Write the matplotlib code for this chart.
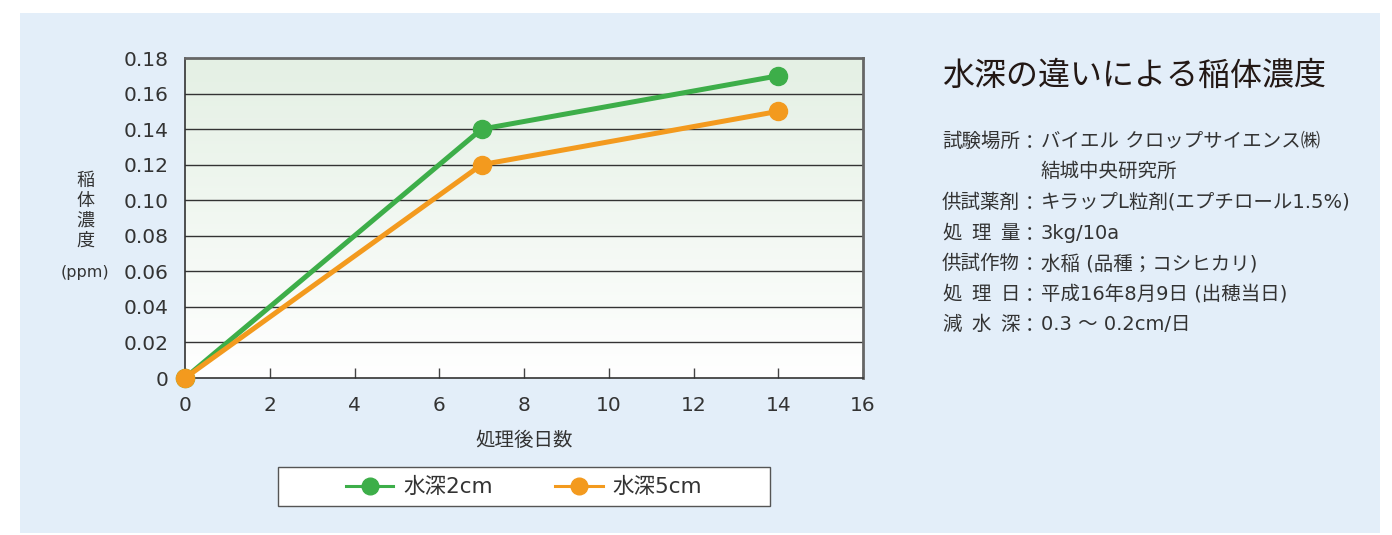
import numpy as np
import matplotlib.pyplot as plt
from matplotlib.patches import Rectangle
from matplotlib.colors import LinearSegmentedColormap

plt.rcParams['font.family'] = ['DejaVu Sans', 'Noto Sans CJK JP']

days = [0, 7, 14]
depth_2cm = [0.0, 0.14, 0.17]
depth_5cm = [0.0, 0.12, 0.15]
series_names = ['水深2cm', '水深5cm']

title = '水深の違いによる稲体濃度'
info_labels = ['試験場所', '', '供試薬剤', '処理量', '供試作物', '処理日', '減水深']
info_values = ['バイエル クロップサイエンス㈱', '結城中央研究所',
               'キラップL粒剤(エプチロール1.5%)', '3kg/10a',
               '水稲 (品種；コシヒカリ)', '平成16年8月9日 (出穂当日)',
               '0.3 ～ 0.2cm/日']

W, H = 1392, 535
fig = plt.figure(figsize=(W / 100, H / 100), dpi=100)
fig.patch.set_facecolor('white')


def fx(px):
    return px / W


def fy(py):
    return 1 - py / H


# light blue panel behind everything
panel = Rectangle((fx(20), fy(533)), fx(1380) - fx(20), fy(13) - fy(533),
                  transform=fig.transFigure, facecolor='#E3EEF9',
                  edgecolor='none', zorder=-10)
fig.patches.append(panel)

ax = fig.add_axes([fx(185), fy(378), fx(863) - fx(185), fy(58) - fy(378)])
ax.set_zorder(1)
ax.set_xlim(0, 16)
ax.set_ylim(0, 0.18)

cmap = LinearSegmentedColormap.from_list('bg', ['#FFFFFF', '#E4F0E4'])
grad = np.linspace(0, 1, 256).reshape(-1, 1)
ax.imshow(grad, cmap=cmap, aspect='auto', extent=[0, 16, 0, 0.18],
          origin='lower', zorder=0)

yticks = np.arange(0, 0.181, 0.02)
for y in yticks[1:-1]:
    ax.axhline(y, color='#333333', lw=1.0, zorder=1)

green = '#3DAE49'
orange = '#F39A1E'
ax.plot(days, depth_2cm, color=green, lw=3.6, marker='o', ms=13,
        label=series_names[0], zorder=3, clip_on=False)
ax.plot(days, depth_5cm, color=orange, lw=3.6, marker='o', ms=13,
        label=series_names[1], zorder=4, clip_on=False)

ax.set_xticks(range(0, 17, 2))
ax.set_yticks(yticks)
ax.set_yticklabels(['0'] + ['%.2f' % v for v in yticks[1:]])
ax.tick_params(axis='x', direction='in', length=7, width=1, color='#444444',
               labelsize=14.5, labelcolor='#333333', pad=13)
ax.tick_params(axis='y', length=0, labelsize=14.5, labelcolor='#333333', pad=12)
for side in ['left', 'bottom']:
    ax.spines[side].set_color('#333333')
    ax.spines[side].set_linewidth(1.2)
for side in ['top', 'right']:
    ax.spines[side].set_color('#666666')
    ax.spines[side].set_linewidth(2)

fig.text(fx(524), fy(440), '処理後日数', ha='center', va='center', fontsize=14,
         color='#333333')

# stacked vertical y label
fig.text(fx(85), fy(211), '稲\n体\n濃\n度', ha='center', va='center', fontsize=13,
         color='#333333', linespacing=1.15)
fig.text(fx(85), fy(272), '(ppm)', ha='center', va='center', fontsize=11.5,
         color='#333333')

# legend frame drawn separately so entries can sit centred inside it
frame = Rectangle((fx(278), fy(506)), fx(770) - fx(278), fy(467) - fy(506),
                  transform=fig.transFigure, facecolor='white', edgecolor='#555555',
                  lw=1.0, zorder=-5)
fig.patches.append(frame)
leg = ax.legend(loc='center', bbox_to_anchor=(fx(524), fy(487)),
                bbox_transform=fig.transFigure, ncol=2, fontsize=15.5, frameon=False,
                handlelength=2.2, handletextpad=0.45, columnspacing=2.9,
                borderaxespad=0, borderpad=0)
for line in leg.get_lines():
    line.set_linewidth(2.2)
    line.set_markersize(12)
for t in leg.get_texts():
    t.set_color('#333333')

fig.text(fx(942), fy(76), title, ha='left', va='center', fontsize=23, color='#231815')

row_y = [140, 170, 201, 232, 262, 293, 323]
label_w = 78
fs = 14
off = 7
for lab, val, y in zip(info_labels, info_values, row_y):
    if lab:
        if len(lab) == 4:
            fig.text(fx(942), fy(y + off), lab, ha='left', va='baseline', fontsize=fs,
                     color='#333333')
        else:
            step = (label_w - 19.5) / (len(lab) - 1)
            for i, ch in enumerate(lab):
                fig.text(fx(942 + i * step), fy(y + off), ch, ha='left', va='baseline',
                         fontsize=fs, color='#333333')
        # full-width colon sits high against the baseline, nudge it down
        fig.text(fx(1030), fy(y + off + 2.5), '：', ha='center', va='baseline', fontsize=fs,
                 color='#333333')
    fig.text(fx(1041), fy(y + off), val, ha='left', va='baseline', fontsize=fs,
             color='#333333')

fig.savefig('out.png', dpi=100)
